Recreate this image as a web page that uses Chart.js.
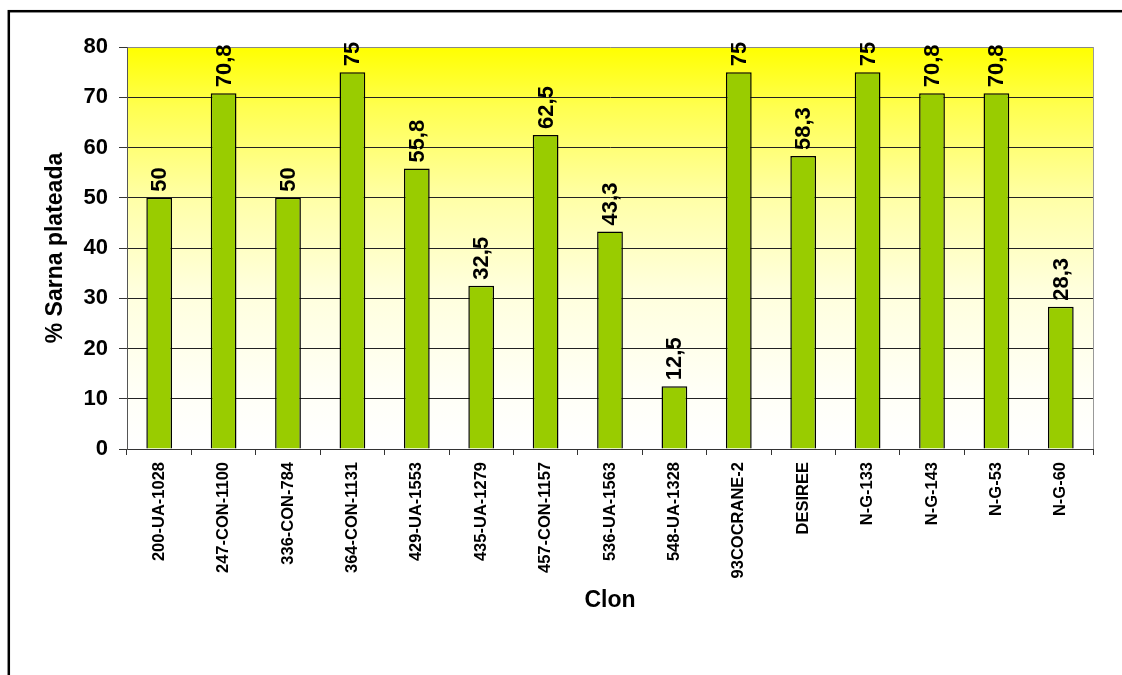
<!DOCTYPE html>
<html>
<head>
<meta charset="utf-8">
<script src="https://cdn.jsdelivr.net/npm/chart.js@4.4.1/dist/chart.umd.min.js"></script>
<style>
    html, body { margin: 0; padding: 0; background: #fff; }
    canvas { display: block; }
</style>
</head>
<body>
<canvas id="myChart" width="1122" height="675"></canvas>
<script>
// clones and their silver scurf percentage
const clones = ['200-UA-1028', '247-CON-1100', '336-CON-784', '364-CON-1131', '429-UA-1553', '435-UA-1279', '457-CON-1157', '536-UA-1563', '548-UA-1328', '93COCRANE-2', 'DESIREE', 'N-G-133', 'N-G-143', 'N-G-53', 'N-G-60'];
const sarna = [50, 70.8, 50, 75, 55.8, 32.5, 62.5, 43.3, 12.5, 75, 58.3, 75, 70.8, 70.8, 28.3];
const yTicks = [0, 10, 20, 30, 40, 50, 60, 70, 80];

const FONT = "'Liberation Sans', Arial, sans-serif";

// yellow wash behind the bars + outer frame + grey right edge
const backdrop = {
    id: 'backdrop',
    beforeDraw(chart) {
        const { ctx, chartArea: a } = chart;
        const g = ctx.createLinearGradient(0, a.top, 0, a.bottom);
        g.addColorStop(0, '#FFFF00');
        g.addColorStop(0.15, '#FFFF50');
        g.addColorStop(0.38, '#FFFFA8');
        g.addColorStop(0.6, '#FFFFDC');
        g.addColorStop(0.85, '#FFFFF6');
        g.addColorStop(1, '#FFFFFF');
        ctx.save();
        ctx.fillStyle = g;
        ctx.fillRect(a.left, a.top, a.right - a.left, a.bottom - a.top);
        ctx.restore();
    },
    beforeDatasetsDraw(chart) {
        const { ctx, chartArea: a } = chart;
        ctx.save();
        ctx.strokeStyle = '#999';
        ctx.lineWidth = 1;
        ctx.beginPath();
        ctx.moveTo(a.right + 0.5, a.top);
        ctx.lineTo(a.right + 0.5, a.bottom);
        ctx.stroke();
        ctx.restore();
    },
    afterDraw(chart) {
        const { ctx, width, height } = chart;
        ctx.save();
        ctx.strokeStyle = '#000';
        ctx.lineWidth = 2.5;
        ctx.strokeRect(8.8, 11.2, width + 20, height + 20);
        ctx.restore();
    }
};

// rotated value above each bar
const valueLabels = {
    id: 'valueLabels',
    afterDatasetsDraw(chart) {
        const { ctx } = chart;
        const meta = chart.getDatasetMeta(0);
        ctx.save();
        ctx.fillStyle = '#000';
        ctx.font = 'bold 22px ' + FONT;
        ctx.textAlign = 'left';
        ctx.textBaseline = 'middle';
        meta.data.forEach((bar, i) => {
            const txt = String(sarna[i]).replace('.', ',');
            ctx.save();
            ctx.translate(bar.x + 1, bar.y - 6);
            ctx.rotate(-Math.PI / 2);
            ctx.fillText(txt, 0, 0);
            ctx.restore();
        });
        ctx.restore();
    }
};

const ctx = document.getElementById('myChart').getContext('2d');

new Chart(ctx, {
    type: 'bar',
    data: {
        labels: clones,
        datasets: [{
            label: '% Sarna plateada',
            data: sarna,
            backgroundColor: '#99CC00',
            borderColor: '#000',
            borderWidth: 1.5,
            barPercentage: 0.4,
            categoryPercentage: 1,
        }]
    },
    options: {
        responsive: false,
        animation: false,
        layout: { padding: { left: 0, right: 29, top: 47, bottom: 0 } },
        plugins: {
            legend: { display: false },
            tooltip: { enabled: false },
        },
        scales: {
            x: {
                afterFit(scale) { scale.height = 226; },
                grid: {
                    drawOnChartArea: false,
                    drawTicks: true,
                    tickLength: 6,
                    color: '#333',
                },
                border: { color: '#333', width: 1 },
                ticks: {
                    autoSkip: false,
                    minRotation: 90,
                    maxRotation: 90,
                    padding: 7,
                    color: '#000',
                    font: { family: FONT, size: 16.5, weight: 'bold' },
                },
                title: {
                    display: true,
                    text: 'Clon',
                    color: '#000',
                    font: { family: FONT, size: 23, weight: 'bold' },
                    padding: { top: 0, bottom: 61 },
                },
            },
            y: {
                min: 0,
                max: 80,
                afterFit(scale) { scale.width = 127; },
                afterBuildTicks(scale) { scale.ticks = yTicks.map(v => ({ value: v })); },
                grid: {
                    color: (c) => c.tick && c.tick.value === 80 ? '#888' : '#222',
                    tickColor: '#333',
                    tickLength: 8,
                },
                border: { color: '#555', width: 1 },
                ticks: {
                    padding: 11,
                    color: '#000',
                    font: { family: FONT, size: 22, weight: 'bold' },
                },
                title: {
                    display: true,
                    text: '% Sarna plateada',
                    color: '#000',
                    font: { family: FONT, size: 23, weight: 'bold' },
                    padding: { top: 42, bottom: 0 },
                },
            },
        },
    },
    plugins: [backdrop, valueLabels],
});
</script>
</body>
</html>
